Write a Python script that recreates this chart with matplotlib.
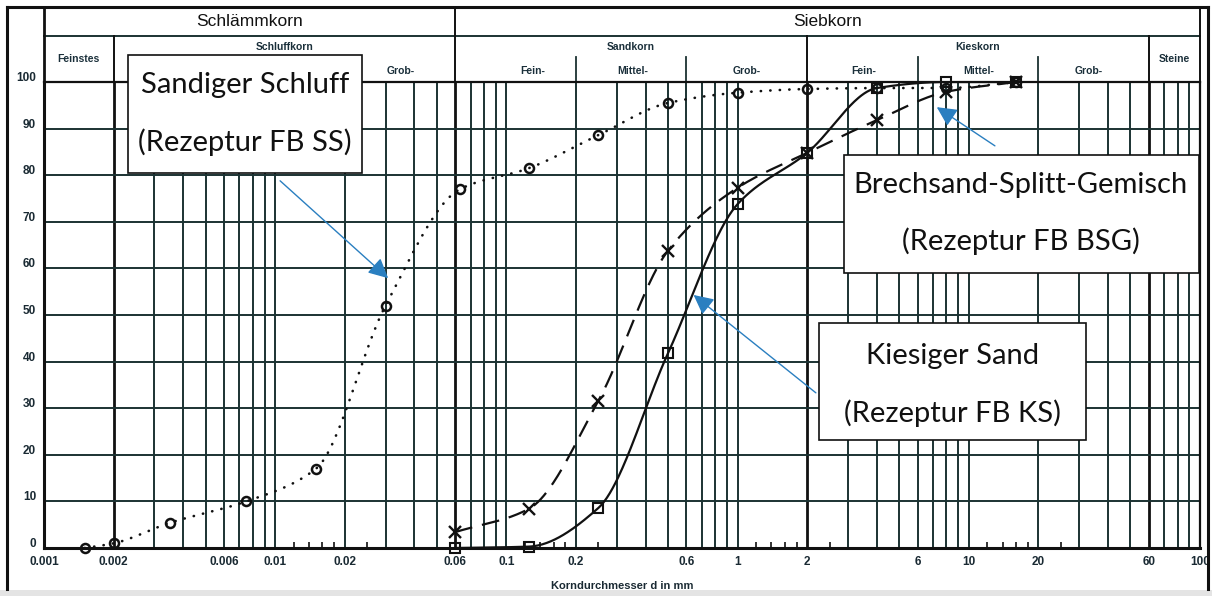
import numpy as np
import matplotlib
matplotlib.use("Agg")
import matplotlib.pyplot as plt
from matplotlib.patches import Rectangle
from matplotlib.lines import Line2D
from matplotlib.transforms import blended_transform_factory, offset_copy

# Sieblinien (Korndurchmesser in mm, Siebdurchgang in %)
ss_d = [0.0015, 0.002, 0.0035, 0.0075, 0.015, 0.03, 0.063, 0.125, 0.25, 0.5, 1, 2, 4, 8, 16]
ss_p = [0, 1, 5.4, 10, 17, 52, 77, 81.5, 88.6, 95.5, 97.7, 98.5, 98.7, 98.7, 100]
bsg_d = [0.06, 0.125, 0.25, 0.5, 1, 2, 4, 8, 16]
bsg_p = [3.4, 8.4, 31.6, 63.8, 77.3, 84.8, 91.8, 97.9, 100]
ks_d = [0.06, 0.125, 0.25, 0.5, 1, 2, 4, 8, 16]
ks_p = [0, 0.3, 8.6, 41.8, 73.8, 84.8, 98.7, 100, 100]

xticks = [0.001, 0.002, 0.006, 0.01, 0.02, 0.06, 0.1, 0.2, 0.6, 1, 2, 6, 10, 20, 60, 100]
xlabels = ["0.001", "0.002", "0.006", "0.01", "0.02", "0.06", "0.1", "0.2", "0.6",
           "1", "2", "6", "10", "20", "60", "100"]
yticks = list(range(0, 101, 10))

# Kornbereiche fuer den Tabellenkopf
top_names = ["Schlämmkorn", "Siebkorn"]
top_bounds = [(0.001, 0.06), (0.06, 100)]
mid_names = ["Feinstes", "Schluffkorn", "Sandkorn", "Kieskorn", "Steine"]
mid_bounds = [(0.001, 0.002), (0.002, 0.06), (0.06, 2), (2, 60), (60, 100)]
sub_names = ["Grob-", "Fein-", "Mittel-", "Grob-", "Fein-", "Mittel-", "Grob-"]
sub_x = [0.035, 0.13, 0.35, 1.1, 3.5, 11, 33]
sub_splits = [0.006, 0.02, 0.2, 0.6, 6, 20]

GRID = "#1b3232"
INK = "#111111"
BLUE = "#2a7fc0"


def pchip(xk, yk, xs):
    # monotone kubische Interpolation fuer die Kurvenzuege
    xk = np.asarray(xk, float)
    yk = np.asarray(yk, float)
    h = np.diff(xk)
    d = np.diff(yk) / h
    m = np.zeros_like(yk)
    for i in range(1, len(xk) - 1):
        if d[i - 1] * d[i] > 0:
            w1 = 2 * h[i] + h[i - 1]
            w2 = h[i] + 2 * h[i - 1]
            m[i] = (w1 + w2) / (w1 / d[i - 1] + w2 / d[i])
    m[0] = d[0]
    m[-1] = d[-1]
    idx = np.clip(np.searchsorted(xk, xs) - 1, 0, len(h) - 1)
    t = (xs - xk[idx]) / h[idx]
    h00 = 2 * t**3 - 3 * t**2 + 1
    h10 = t**3 - 2 * t**2 + t
    h01 = -2 * t**3 + 3 * t**2
    h11 = t**3 - t**2
    return h00 * yk[idx] + h10 * h[idx] * m[idx] + h01 * yk[idx + 1] + h11 * h[idx] * m[idx + 1]


def smooth(d, p):
    lx = np.log10(d)
    xs = np.linspace(lx[0], lx[-1], 400)
    return 10**xs, np.clip(pchip(lx, p, xs), 0, 100)


W, H = 1212, 596
fig = plt.figure(figsize=(W / 100, H / 100), dpi=100)
ax = fig.add_axes([44 / W, (H - 548) / H, 1156 / W, 466 / H])
ax.set_xscale("log")
ax.set_xlim(0.001, 100)
ax.set_ylim(0, 100)

# Raster
for k in range(-3, 2):
    for m in range(1, 10):
        v = round(m * 10.0**k, 6)
        if v <= 0.001:
            continue
        thick = v in (0.002, 0.06, 2, 60)
        ax.axvline(v, color=INK if thick else GRID, lw=2.0 if thick else 1.4, zorder=1)
for v in range(10, 100, 10):
    ax.axhline(v, color=GRID, lw=1.4, zorder=1)

for s in ax.spines.values():
    s.set_color(INK)
    s.set_linewidth(1.6)
ax.spines["left"].set_linewidth(2.2)
ax.spines["bottom"].set_linewidth(2.2)

ax.set_xticks(xticks)
ax.set_xticklabels(xlabels)
minor = []
for dec in (0.01, 0.1, 1, 10):
    minor += [dec * f for f in (1.2, 1.4, 1.6, 1.8, 2.5)]
ax.set_xticks(minor, minor=True)
ax.xaxis.set_minor_formatter(plt.NullFormatter())
ax.tick_params(axis="x", which="major", length=0, pad=6, labelsize=8.5, labelcolor="#1a2a33")
ax.tick_params(axis="x", which="minor", direction="in", length=4, width=1.2, color=INK)
for lab in ax.get_xticklabels():
    lab.set_fontfamily("Liberation Sans")
    lab.set_fontweight("bold")
ax.set_yticks([])
ylab_tr = offset_copy(blended_transform_factory(ax.transAxes, ax.transData), fig=fig, x=-8, y=4, units="dots")
for v in yticks:
    ax.text(0, v, str(v), transform=ylab_tr, ha="right", va="center", fontsize=8.5,
            family="Liberation Sans", weight="bold", color="#1a2a33")

ax.set_xlabel("Korndurchmesser d in mm", fontsize=8, family="Liberation Sans",
              weight="bold", color="#1a2a33", labelpad=9)

# Kurven
x, y = smooth(ss_d, ss_p)
ax.plot(x, y, color=INK, lw=1.9, ls=(0, (0.1, 3.5)), dash_capstyle="round", zorder=3)
ax.plot(ss_d, ss_p, "o", ms=6.5, mfc="none", mec=INK, mew=1.8, zorder=4, clip_on=False)

x, y = smooth(bsg_d, bsg_p)
ax.plot(x, y, color=INK, lw=1.6, ls=(0, (8, 4.5)), zorder=3)
ax.plot(bsg_d, bsg_p, "x", ms=9, mec=INK, mew=1.7, zorder=4, clip_on=False)

x, y = smooth(ks_d, ks_p)
ax.plot(x, y, color=INK, lw=1.6, zorder=3)
ax.plot(ks_d, ks_p, "s", ms=7.5, mfc="none", mec=INK, mew=1.5, zorder=4, clip_on=False)

# Tabellenkopf
hdr = blended_transform_factory(ax.transData, ax.transAxes)


def hy(py):
    return (548 - py) / 466


def vline(xv, y0, y1, lw=1.4, color=GRID):
    ax.add_line(Line2D([xv, xv], [hy(y0), hy(y1)], transform=hdr, color=color, lw=lw, clip_on=False))


ax.add_line(Line2D([0.001, 100], [hy(36), hy(36)], transform=hdr, color=GRID, lw=1.4, clip_on=False))
vline(0.001, 7, 82, 2.0, INK)
vline(100, 7, 82, 1.4, INK)
vline(0.06, 7, 82, 1.4, INK)
for b in (0.002, 2, 60):
    vline(b, 36, 82, 1.4, INK)
for b in sub_splits:
    vline(b, 57, 82, 1.3, GRID)

for name, (a, b) in zip(top_names, top_bounds):
    ax.text(np.sqrt(a * b), hy(22), name, transform=hdr, ha="center", va="center",
            fontsize=12.5, family="Liberation Sans", color=INK)
for name, (a, b) in zip(mid_names, mid_bounds):
    yy = 59 if name in ("Feinstes", "Steine") else 47
    ax.text(np.sqrt(a * b), hy(yy), name, transform=hdr, ha="center", va="center",
            fontsize=7.5, family="Liberation Sans", weight="bold", color="#1a2f3a")
for name, xv in zip(sub_names, sub_x):
    ax.text(xv, hy(71), name, transform=hdr, ha="center", va="center",
            fontsize=7.5, family="Liberation Sans", weight="bold", color="#1a2f3a")

# Beschriftungskaesten mit Pfeilen
boxes = [
    ((0.00231, 80.5), (0.0238, 105.8), 0.00741, (97.6, 85.2), "Sandiger Schluff", "(Rezeptur FB SS)"),
    ((2.877, 59.0), (99.0, 84.3), 16.8, (76.2, 63.9), "Brechsand-Splitt-Gemisch", "(Rezeptur FB BSG)"),
    ((2.243, 23.2), (32.1, 48.3), 8.48, (39.5, 27.0), "Kiesiger Sand", "(Rezeptur FB KS)"),
]
for (x0, y0), (x1, y1), xc, (b1, b2), t1, t2 in boxes:
    ax.add_patch(Rectangle((x0, y0), x1 - x0, y1 - y0, facecolor="white", edgecolor=INK,
                           lw=1.2, zorder=5, clip_on=False))
    for yy, t in ((b1, t1), (b2, t2)):
        ax.text(xc, yy, t, ha="center", va="baseline", fontsize=21, family="Lato",
                color=INK, zorder=6)

arrows = [((0.0105, 78.8), (0.0308, 57.9)), ((12.97, 86.3), (7.27, 94.6)), ((2.18, 33.3), (0.645, 54.3))]
for tail, tip in arrows:
    ax.annotate("", xy=tip, xytext=tail, zorder=7,
                arrowprops=dict(arrowstyle="-|>,head_length=0.8,head_width=0.4", color=BLUE,
                                lw=1.0, mutation_scale=15, shrinkA=0, shrinkB=0))

# Rahmen um die Grafik
for xs_, ys_ in (([7, 7], [7, 589]), ([1208, 1208], [7, 589]), ([7, 1208], [7, 7])):
    fig.add_artist(Line2D([v / W for v in xs_], [1 - v / H for v in ys_], transform=fig.transFigure,
                          color=INK, lw=2.2))
fig.add_artist(Rectangle((0, 0), 1, 6 / H, transform=fig.transFigure, color="#e4e4e4", lw=0))

fig.savefig("out.png", dpi=100)
